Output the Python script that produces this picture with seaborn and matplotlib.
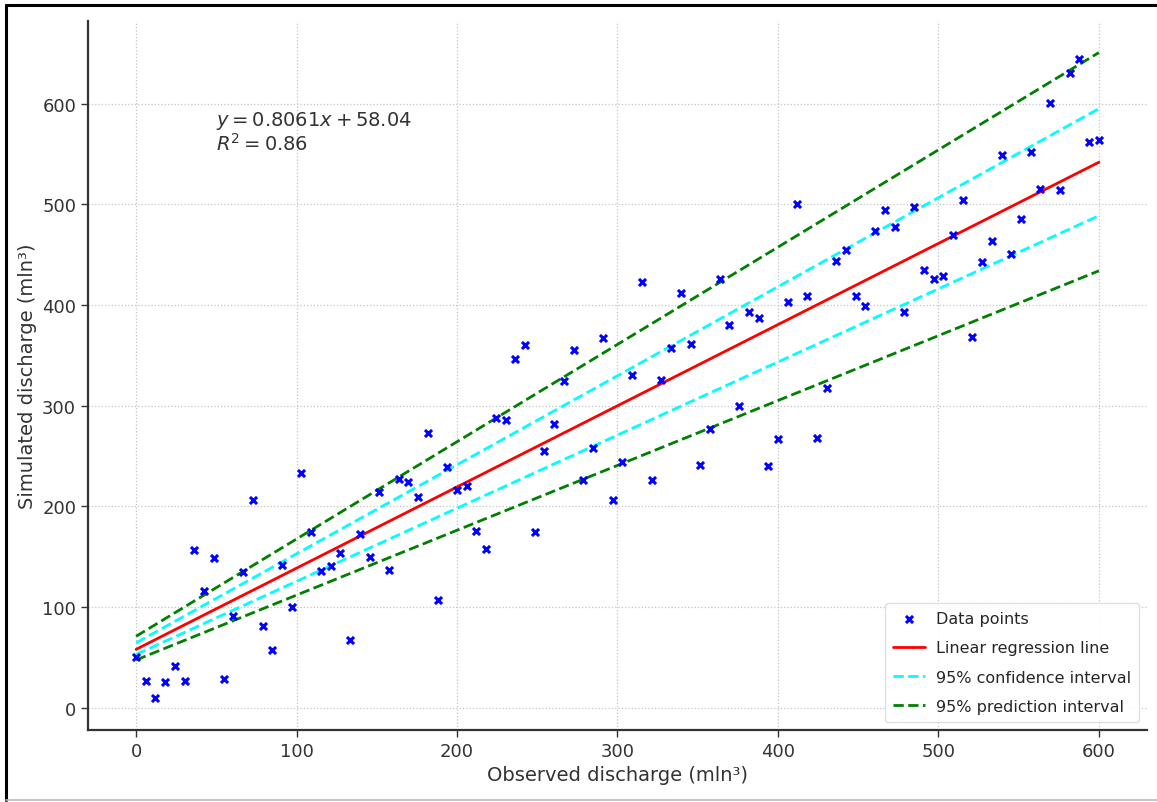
import numpy as np
import pandas as pd
import seaborn as sns
import matplotlib.pyplot as plt
from matplotlib.lines import Line2D

# observed discharge (x) and simulated discharge (y)
observed = [0, 6.1, 12.1, 18.2, 24.2, 30.3, 36.4, 42.4, 48.5, 54.5,
            60.6, 66.7, 72.7, 78.8, 84.8, 90.9, 97.0, 103.0, 109.1, 115.2,
            121.2, 127.3, 133.3, 139.4, 145.5, 151.5, 157.6, 163.6, 169.7, 175.8,
            181.8, 187.9, 193.9, 200.0, 206.1, 212.1, 218.2, 224.2, 230.3, 236.4,
            242.4, 248.5, 254.5, 260.6, 266.7, 272.7, 278.8, 284.8, 290.9, 297.0,
            303.0, 309.1, 315.2, 321.2, 327.3, 333.3, 339.4, 345.5, 351.5, 357.6,
            363.6, 369.7, 375.8, 381.8, 387.9, 393.9, 400.0, 406.1, 412.1, 418.2,
            424.2, 430.3, 436.4, 442.4, 448.5, 454.5, 460.6, 466.7, 472.7, 478.8,
            484.8, 490.9, 497.0, 503.0, 509.1, 515.2, 521.2, 527.3, 533.3, 539.4,
            545.5, 551.5, 557.6, 563.6, 569.7, 575.8, 581.8, 587.9, 593.9, 600.0]
simulated = [50, 26.5, 10, 26, 41.5, 26.5, 156.5, 115.5, 148.5, 28.5,
             91, 134.5, 206.5, 81, 57, 142, 100, 233.5, 175, 135.5,
             140.5, 154, 67, 173, 149.5, 214.5, 137, 227.5, 224, 209,
             272.5, 107, 239, 216, 220, 176, 157.5, 287.5, 286, 346,
             360, 174.5, 255, 281.5, 324.5, 355, 226.5, 258, 367, 206.5,
             244, 330.5, 422.5, 226, 325, 357, 411.5, 361, 241.5, 277,
             426, 380, 299.5, 392.5, 387, 240.5, 267, 402.5, 500.5, 409,
             267.5, 317.5, 444, 454.5, 409, 398.5, 473, 494, 477, 392.5,
             497.5, 434.5, 426, 428.5, 469.5, 504, 368.5, 443, 463, 549,
             451, 485, 551.5, 515.5, 600.5, 514, 630, 644, 561.5, 564]

# regression fit and interval bounds (intercept, slope)
fit_slope, fit_intercept, r2 = 0.8061, 58.04, 0.86
ci_upper = (64.5, 0.884)
ci_lower = (53.0, 0.726)
pi_upper = (71.0, 0.966)
pi_lower = (47.5, 0.644)

df = pd.DataFrame({'obs': observed, 'sim': simulated})
xline = np.array([0, 600])

sns.set_theme(style='whitegrid')
plt.rcParams['font.family'] = ['DejaVu Sans']

fig = plt.figure(figsize=(11.57, 8.03), dpi=100)
ax = fig.add_axes([0.076, 0.0897, 0.9154, 0.883])

sns.scatterplot(data=df, x='obs', y='sim', ax=ax, marker='x', color='blue',
                s=26, linewidth=2.2, label='Data points', zorder=3)
sns.lineplot(x=xline, y=fit_intercept + fit_slope * xline, ax=ax, color='red',
             lw=2, label='Linear regression line')
for b, lab in [(ci_upper, '95% confidence interval'), (ci_lower, None)]:
    ax.plot(xline, b[0] + b[1] * xline, color='cyan', ls='--', lw=2, label=lab)
for b, lab in [(pi_upper, '95% prediction interval'), (pi_lower, None)]:
    ax.plot(xline, b[0] + b[1] * xline, color='green', ls='--', lw=2, label=lab)

ax.text(0.121, 0.876, f'$y = {fit_slope}x + {fit_intercept}$\n$R^2 = {r2}$',
        transform=ax.transAxes, va='top', ha='left', fontsize=14,
        color='#333333', linespacing=1.05)

ax.set_xlim(-30, 630)
ax.set_ylim(-22, 682)
ax.set_xticks([0, 100, 200, 300, 400, 500, 600])
ax.set_yticks([0, 100, 200, 300, 400, 500, 600])
ax.set_xlabel('Observed discharge (mln³)', fontsize=14, color='#333333')
ax.set_ylabel('Simulated discharge (mln³)', fontsize=14, color='#333333')
ax.tick_params(labelsize=13, colors='#333333', length=5, width=1,
               left=True, bottom=True)
ax.grid(True, ls=':', color='#c4c4c4', lw=0.9)
sns.despine(ax=ax)
for sp in ['left', 'bottom']:
    ax.spines[sp].set_color('#333333')
    ax.spines[sp].set_linewidth(1.6)

leg = ax.legend(loc='lower right', fontsize=11.5, frameon=True, framealpha=0.9,
                borderaxespad=0.5, labelspacing=0.9, handletextpad=0.7,
                borderpad=0.5)
leg.get_frame().set_edgecolor('#dddddd')

# outer frame of the screenshot
fig.add_artist(Line2D([0.005, 0.005], [0.003, 0.992], color='black', lw=2.2))
fig.add_artist(Line2D([0.005, 1.0], [0.992, 0.992], color='black', lw=2.2))
fig.add_artist(Line2D([0.005, 1.0], [0.003, 0.003], color='#bbbbbb', lw=1.2))

fig.savefig('out.png', dpi=100)
